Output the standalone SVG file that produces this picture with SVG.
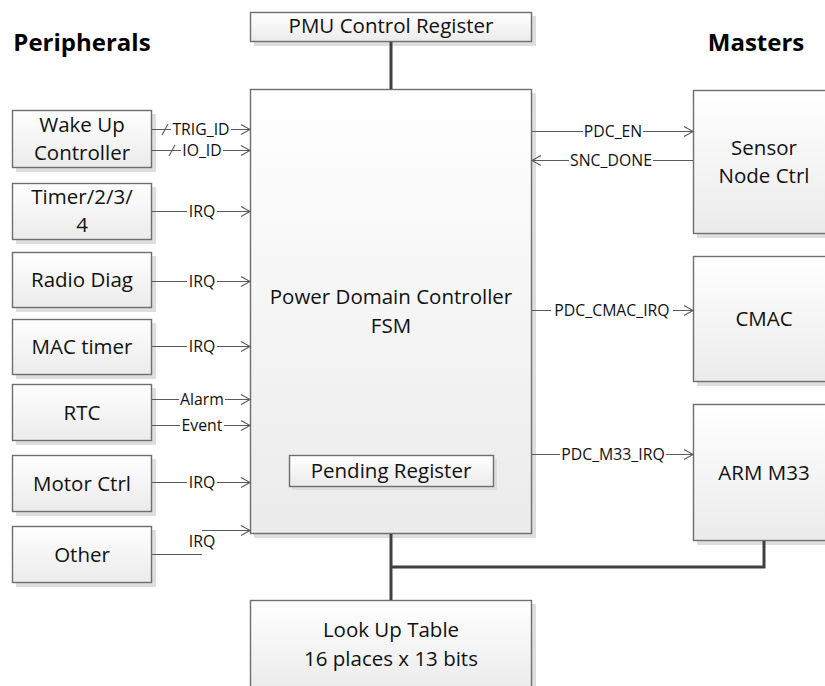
<svg xmlns="http://www.w3.org/2000/svg" width="825" height="686" viewBox="0 0 825 686">
<style>
.box{fill:url(#g);stroke:#6e6e6e;stroke-width:1.4}
.sh{fill:#dedede}
.t{font-family:"Open Sans","Liberation Sans",sans-serif;font-size:20.5px;fill:#111;text-anchor:middle}
.title{font-family:"Open Sans","Liberation Sans",sans-serif;font-size:24px;font-weight:bold;fill:#000;text-anchor:middle}
.ln{fill:none;stroke:#5a5a5a;stroke-width:1.1}
.arr{marker-end:url(#a)}
.thick{fill:none;stroke:#404040;stroke-width:3;stroke-linejoin:miter}
.bg{fill:#fff}
.lbl{font-family:"Open Sans","Liberation Sans",sans-serif;font-size:15.8px;fill:#111;text-anchor:middle}
</style>
<defs>
<linearGradient id="g" x1="0" y1="0" x2="0" y2="1"><stop offset="0" stop-color="#ffffff"/><stop offset="1" stop-color="#ebebeb"/></linearGradient>
<marker id="a" markerUnits="userSpaceOnUse" markerWidth="12" markerHeight="12" refX="9" refY="5.5" orient="auto" overflow="visible"><path d="M0,0.5 L9,5.5 L0,10.5" fill="none" stroke="#5a5a5a" stroke-width="1.1"/></marker>
</defs>
<rect width="825" height="686" fill="#fff"/>

<text class="title" x="82" y="51">Peripherals</text>
<text class="title" x="756" y="51">Masters</text>

<g id="pmu"><rect class="sh" x="254" y="16" width="282" height="30"/><rect class="box" x="250.5" y="12.5" width="281" height="29"/><text class="t" x="391" y="33">PMU Control Register</text></g>

<g id="pdc"><rect class="sh" x="254" y="93" width="282" height="445"/><rect class="box" x="250.5" y="89.5" width="281" height="444"/><text class="t" x="391" y="304">Power Domain Controller</text><text class="t" x="391" y="333">FSM</text></g>

<g id="pending"><rect class="sh" x="292" y="459" width="205" height="31"/><rect class="box" x="289.5" y="455.5" width="204" height="31"/><text class="t" x="391" y="478">Pending Register</text></g>

<g id="lut"><rect class="sh" x="254" y="604" width="282" height="90"/><rect class="box" x="250.5" y="600.5" width="281" height="90"/><text class="t" x="391" y="637">Look Up Table</text><text class="t" x="391" y="666">16 places x 13 bits</text></g>

<g id="wakeup"><rect class="sh" x="16" y="114" width="140" height="58"/><rect class="box" x="12.5" y="110.5" width="139" height="57"/><text class="t" x="82" y="132">Wake Up</text><text class="t" x="82" y="160">Controller</text></g>
<g id="timer"><rect class="sh" x="16" y="187" width="140" height="57"/><rect class="box" x="12.5" y="183.5" width="139" height="56"/><text class="t" x="82" y="204">Timer/2/3/</text><text class="t" x="82" y="232">4</text></g>
<g id="radio"><rect class="sh" x="16" y="256" width="140" height="56"/><rect class="box" x="12.5" y="252.5" width="139" height="55"/><text class="t" x="82" y="287">Radio Diag</text></g>
<g id="mac"><rect class="sh" x="16" y="323" width="140" height="56"/><rect class="box" x="12.5" y="319.5" width="139" height="55"/><text class="t" x="82" y="354">MAC timer</text></g>
<g id="rtc"><rect class="sh" x="16" y="388" width="140" height="57"/><rect class="box" x="12.5" y="384.5" width="139" height="56"/><text class="t" x="82" y="420">RTC</text></g>
<g id="motor"><rect class="sh" x="16" y="459" width="140" height="57"/><rect class="box" x="12.5" y="455.5" width="139" height="56"/><text class="t" x="82" y="491">Motor Ctrl</text></g>
<g id="other"><rect class="sh" x="16" y="530" width="140" height="57"/><rect class="box" x="12.5" y="526.5" width="139" height="56"/><text class="t" x="82" y="562">Other</text></g>

<g id="snc"><rect class="sh" x="697" y="94" width="150" height="144"/><rect class="box" x="693.5" y="90.5" width="150" height="143"/><text class="t" x="764" y="155">Sensor</text><text class="t" x="764" y="183">Node Ctrl</text></g>
<g id="cmac"><rect class="sh" x="697" y="260" width="150" height="126"/><rect class="box" x="693.5" y="256.5" width="150" height="125"/><text class="t" x="764" y="326">CMAC</text></g>
<g id="m33"><rect class="sh" x="697" y="408" width="150" height="137"/><rect class="box" x="693.5" y="404.5" width="150" height="136"/><text class="t" x="764" y="480">ARM M33</text></g>

<g id="connectors">
<path class="thick" d="M391,42 V89"/>
<path class="thick" d="M391,534 V600"/>
<path class="thick" d="M391,567 H764 V541"/>

<path class="ln arr" d="M152,129.5 H250"/>
<path class="ln" d="M162,135 L168,124"/>
<rect class="bg" x="171" y="122.5" width="60" height="14"/>
<text class="lbl" x="201" y="135">TRIG_ID</text>
<path class="ln arr" d="M152,150.5 H250"/>
<path class="ln" d="M169,156 L175,145"/>
<rect class="bg" x="181" y="143.5" width="42" height="14"/>
<text class="lbl" x="202" y="156">IO_ID</text>

<path class="ln arr" d="M152,211.5 H250"/><rect class="bg" x="187" y="204.5" width="30" height="14"/><text class="lbl" x="202" y="217">IRQ</text>
<path class="ln arr" d="M152,281.5 H250"/><rect class="bg" x="187" y="274.5" width="30" height="14"/><text class="lbl" x="202" y="287">IRQ</text>
<path class="ln arr" d="M152,346.5 H250"/><rect class="bg" x="187" y="339.5" width="30" height="14"/><text class="lbl" x="202" y="352">IRQ</text>
<path class="ln arr" d="M152,399.5 H250"/><rect class="bg" x="179" y="392.5" width="46" height="14"/><text class="lbl" x="202" y="405">Alarm</text>
<path class="ln arr" d="M152,425.5 H250"/><rect class="bg" x="180" y="418.5" width="44" height="14"/><text class="lbl" x="202" y="431">Event</text>
<path class="ln arr" d="M152,482.5 H250"/><rect class="bg" x="187" y="475.5" width="30" height="14"/><text class="lbl" x="202" y="488">IRQ</text>
<path class="ln" d="M152,554.5 H202"/>
<path class="ln arr" d="M202,530.5 H250"/>
<text class="lbl" x="202" y="547">IRQ</text>

<path class="ln arr" d="M532,131.5 H693"/><rect class="bg" x="583" y="124.5" width="60" height="14"/><text class="lbl" x="613" y="137">PDC_EN</text>
<path class="ln arr" d="M693,160.5 H532"/><rect class="bg" x="569" y="153.5" width="84" height="14"/><text class="lbl" x="611" y="166">SNC_DONE</text>
<path class="ln arr" d="M532,310.5 H693"/><rect class="bg" x="551" y="303.5" width="122" height="14"/><text class="lbl" x="612" y="316">PDC_CMAC_IRQ</text>
<path class="ln arr" d="M532,454.5 H693"/><rect class="bg" x="560" y="447.5" width="106" height="14"/><text class="lbl" x="613" y="460">PDC_M33_IRQ</text>
</g>
</svg>
